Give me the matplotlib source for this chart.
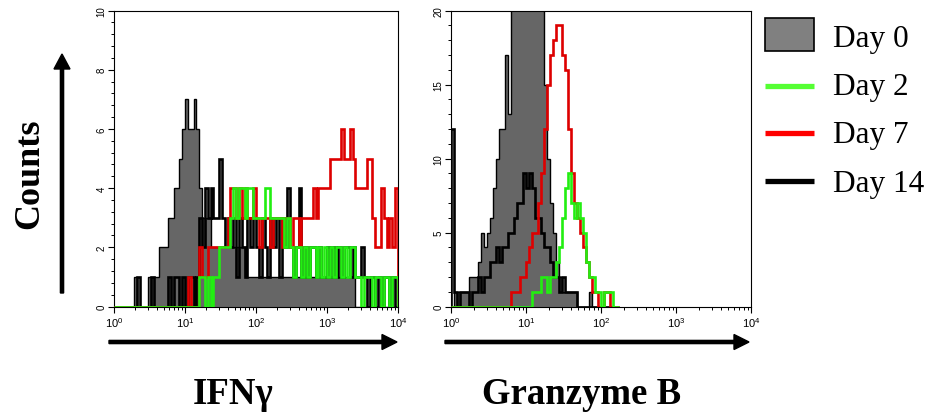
import numpy as np
import matplotlib
matplotlib.use("Agg")
import matplotlib.pyplot as plt
from matplotlib.ticker import MultipleLocator
from matplotlib.patches import FancyArrow, Rectangle
from matplotlib.lines import Line2D
from matplotlib.transforms import IdentityTransform

plt.rcParams['font.family'] = ['Liberation Sans', 'DejaVu Sans']
plt.rcParams['mathtext.fontset'] = 'custom'
plt.rcParams['mathtext.rm'] = 'Liberation Sans'
plt.rcParams['mathtext.it'] = 'Liberation Sans:italic'
plt.rcParams['mathtext.bf'] = 'Liberation Sans:bold'

# Histogram channels: each bin spans 0.04 decade, starting at 10^0
BIN_WIDTH = 0.04

days = ["Day 0", "Day 2", "Day 7", "Day 14"]

# ---- IFN-gamma counts per channel (100 channels, 10^0 .. 10^4) ----
ifng_day0 = [0, 0, 0, 0, 0, 0, 0, 1, 0, 0,
             0, 0, 1, 1, 1, 1, 2, 2, 2, 3,
             3, 4, 4, 5, 6, 7, 6, 6, 7, 6,
             4, 3, 3, 3, 2, 2, 2, 2, 2, 2,
             2, 2, 2, 2, 2, 2, 1, 1, 1, 1,
             1, 1, 1, 1, 1, 1, 1, 1, 1, 1,
             1, 1, 1, 1, 1, 1, 1, 1, 1, 1,
             1, 1, 1, 1, 1, 1, 1, 1, 1, 1,
             1, 1, 1, 1, 1, 0, 0, 0, 0, 0,
             0, 0, 0, 0, 0, 0, 0, 0, 0, 0]
ifng_day2 = [0, 0, 0, 0, 0, 0, 0, 0, 0, 0,
             0, 0, 0, 0, 0, 0, 0, 0, 0, 0,
             0, 0, 0, 0, 0, 0, 0, 0, 0, 0,
             1, 1, 0, 1, 0, 1, 1, 2, 2, 2,
             2, 3, 4, 3, 4, 4, 3, 4, 4, 3,
             3, 3, 3, 4, 4, 3, 3, 3, 3, 3,
             2, 3, 2, 1, 2, 2, 1, 2, 1, 2,
             2, 1, 2, 1, 2, 1, 2, 1, 2, 2,
             1, 2, 1, 2, 2, 1, 1, 0, 1, 1,
             1, 0, 1, 1, 0, 1, 1, 0, 1, 1]
ifng_day7 = [0, 0, 0, 0, 0, 0, 0, 0, 0, 0,
             0, 0, 0, 0, 0, 0, 0, 0, 0, 0,
             0, 0, 0, 0, 0, 0, 1, 0, 0, 0,
             2, 1, 1, 2, 2, 2, 2, 2, 2, 2,
             3, 4, 4, 3, 4, 3, 4, 3, 3, 4,
             3, 2, 3, 3, 3, 2, 3, 3, 3, 2,
             3, 3, 2, 3, 3, 2, 3, 3, 3, 3,
             4, 3, 4, 4, 4, 4, 5, 5, 5, 5,
             6, 5, 5, 6, 5, 4, 4, 4, 4, 5,
             5, 3, 2, 2, 4, 3, 2, 3, 2, 4]
ifng_day14 = [0, 0, 0, 0, 0, 0, 0, 0, 1, 0,
              0, 0, 0, 1, 0, 0, 0, 0, 0, 1,
              0, 1, 1, 0, 1, 0, 1, 1, 0, 1,
              3, 2, 4, 3, 4, 3, 3, 5, 3, 2,
              3, 2, 3, 1, 3, 2, 1, 3, 2, 3,
              2, 1, 3, 2, 1, 3, 2, 3, 1, 3,
              2, 4, 2, 1, 2, 4, 1, 2, 1, 2,
              2, 1, 2, 1, 1, 2, 1, 2, 1, 2,
              1, 2, 2, 1, 2, 1, 1, 2, 1, 0,
              1, 1, 0, 1, 0, 1, 1, 0, 1, 0]

# ---- Granzyme B counts per channel (56 channels, 10^0 .. 10^2.24) ----
gzmb_day0 = [0, 1, 1, 1, 1, 1, 2, 2, 2, 3,
             5, 4, 5, 6, 8, 10, 12, 12, 17, 13,
             22, 24, 25, 27, 28, 28, 27, 26, 25, 23,
             21, 15, 10, 7, 5, 3, 2, 1, 1, 1,
             1, 1, 0, 0, 0, 0, 1, 0, 0, 0,
             0, 0, 0, 0, 0, 0]
gzmb_day2 = [0, 0, 0, 0, 0, 0, 0, 0, 0, 0,
             0, 0, 0, 0, 0, 0, 0, 0, 0, 0,
             0, 0, 0, 0, 0, 0, 0, 1, 1, 1,
             2, 2, 1, 2, 2, 3, 4, 6, 8, 9,
             7, 6, 7, 6, 5, 3, 2, 2, 1, 1,
             0, 1, 1, 1, 0, 0]
gzmb_day7 = [0, 0, 0, 0, 0, 0, 0, 0, 0, 0,
             0, 0, 0, 0, 0, 0, 0, 0, 0, 0,
             1, 1, 1, 2, 2, 3, 4, 5, 5, 7,
             9, 12, 15, 17, 18, 19, 19, 17, 16, 12,
             9, 7, 6, 5, 4, 3, 2, 1, 1, 0,
             0, 1, 1, 0, 0, 0]
gzmb_day14 = [12, 1, 0, 1, 1, 1, 0, 1, 1, 2,
              1, 2, 2, 3, 3, 4, 3, 4, 4, 5,
              5, 6, 7, 7, 9, 8, 9, 8, 6, 6,
              5, 4, 4, 3, 2, 2, 1, 2, 1, 1,
              1, 1, 0, 0, 0, 0, 0, 0, 0, 0,
              0, 0, 0, 0, 0, 0]

panel_titles = ["IFN\u03b3", "Granzyme B"]
y_limits = [10, 20]
y_major = [2, 5]
y_minor = [0.4, 1]

gray_fill = "#666666"
line_colors = {"Day 2": "#22ee11", "Day 7": "#dd0000", "Day 14": "#000000"}
legend_colors = {"Day 0": "#808080", "Day 2": "#55ff33", "Day 7": "#ff0000", "Day 14": "#000000"}

W, H = 939, 414
fig = plt.figure(figsize=(W / 100, H / 100), dpi=100)

ax1 = fig.add_axes([114 / W, 106.5 / H, 284 / W, 296 / H])
ax2 = fig.add_axes([451 / W, 106.5 / H, 300 / W, 296 / H])

LW = 1.9


def draw_panel(ax, d0, d2, d7, d14, ymax, major, minor):
    edges = 10 ** (BIN_WIDTH * np.arange(len(d0) + 1))
    ax.stairs(d0, edges, fill=True, color=gray_fill, zorder=1)
    ax.stairs(d0, edges, color="black", lw=1.0, zorder=2)
    ax.stairs(d14, edges, color=line_colors["Day 14"], lw=LW, zorder=3)
    ax.stairs(d7, edges, color=line_colors["Day 7"], lw=LW, zorder=4)
    ax.stairs(d2, edges, color=line_colors["Day 2"], lw=LW, zorder=5)
    ax.set_xscale("log")
    ax.set_xlim(1, 1e4)
    ax.set_ylim(0, ymax)
    ax.yaxis.set_major_locator(MultipleLocator(major))
    ax.yaxis.set_minor_locator(MultipleLocator(minor))
    ax.tick_params(which="major", direction="out", length=4, width=0.8,
                   labelsize=8, pad=2)
    ax.tick_params(which="minor", direction="out", length=2.2, width=0.7)
    ax.tick_params(axis="y", labelsize=7, labelrotation=90, pad=1.5)
    for lab in ax.get_yticklabels():
        lab.set_verticalalignment("center")
    for sp in ax.spines.values():
        sp.set_linewidth(0.8)


draw_panel(ax1, ifng_day0, ifng_day2, ifng_day7, ifng_day14,
           y_limits[0], y_major[0], y_minor[0])
draw_panel(ax2, gzmb_day0, gzmb_day2, gzmb_day7, gzmb_day14,
           y_limits[1], y_major[1], y_minor[1])

px = IdentityTransform()


def py(y_from_top):
    return H - y_from_top


# Axis arrows
for x0, x1 in [(109, 397), (445, 749)]:
    fig.add_artist(FancyArrow(x0, py(343), x1 - x0, 0, width=3.2,
                              head_width=15, head_length=15,
                              length_includes_head=True, color="black",
                              transform=px))
fig.add_artist(FancyArrow(62, py(294), 0, 294 - 55, width=3.2,
                          head_width=16, head_length=15,
                          length_includes_head=True, color="black",
                          transform=px))

serif = ["Liberation Serif", "DejaVu Serif"]
fig.text(30 / W, py(174) / H, "Counts", rotation=90, ha="center", va="center",
         fontsize=26, fontweight="bold", family=serif)
fig.text(233 / W, py(404) / H, panel_titles[0], ha="center", va="baseline",
         fontsize=26.5, fontweight="bold", family=serif)
fig.text(582 / W, py(404) / H, panel_titles[1], ha="center", va="baseline",
         fontsize=26.5, fontweight="bold", family=serif)

# Legend
fig.add_artist(Rectangle((765, py(52)), 49, 33, facecolor=legend_colors["Day 0"],
                         edgecolor="black", lw=1.2, transform=px))
line_rows = {"Day 2": 86.5, "Day 7": 134, "Day 14": 182}
for d, yc in line_rows.items():
    fig.add_artist(Line2D([765, 814], [py(yc), py(yc)], lw=3.8,
                          color=legend_colors[d], transform=px,
                          solid_capstyle="butt"))
baselines = [47, 95, 143, 192]
for d, b in zip(days, baselines):
    fig.text(833 / W, py(b) / H, d, ha="left", va="baseline",
             fontsize=22.5, family=serif)

fig.savefig("out.png", dpi=100)
